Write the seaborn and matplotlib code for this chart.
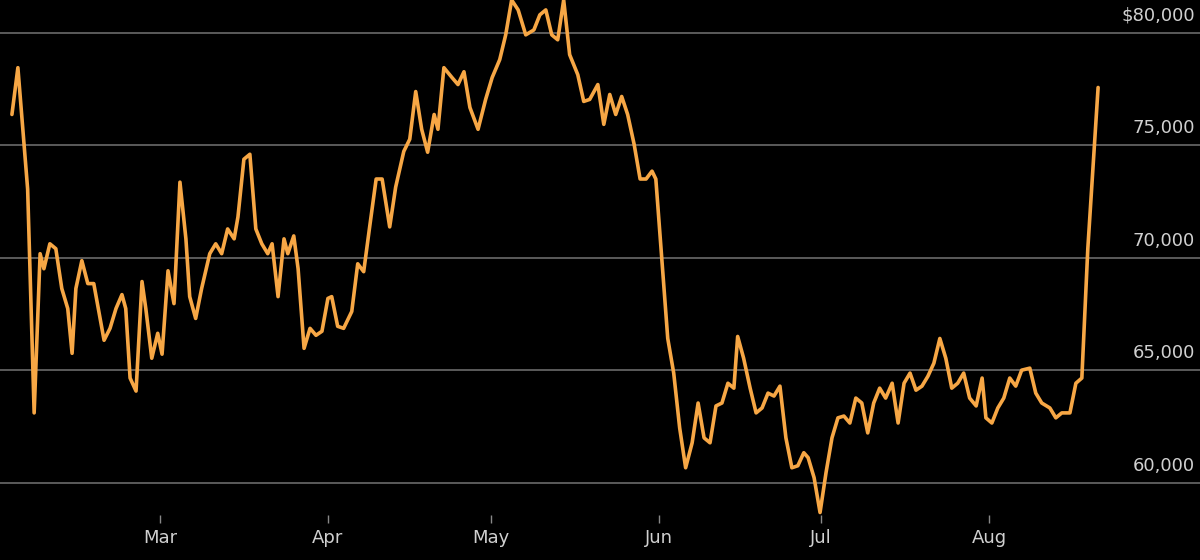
import matplotlib
matplotlib.use("Agg")
import matplotlib.pyplot as plt
import seaborn as sns
import pandas as pd

days = [-27.3,-26.2,-24.4,-23.2,-22.1,-21.4,-20.3,-19.2,-18.1,-17.0,-16.2,-15.5,-14.4,-13.3,-12.2,-10.3,-9.2,-8.1,-7.0,-6.3,-5.5,-4.4,-3.3,-2.6,-1.5,-0.4,0.4,1.5,2.6,3.7,4.8,5.5,6.6,7.7,9.2,10.3,11.4,12.5,13.7,14.4,15.5,16.6,17.7,18.8,19.9,20.7,21.8,22.9,23.6,24.7,25.5,26.6,27.7,28.8,29.9,31.0,31.7,32.8,33.9,35.4,36.5,37.6,38.7,39.9,41.0,42.4,43.5,45.0,46.1,47.2,48.3,49.4,50.6,51.3,52.4,53.9,55.0,56.1,57.2,58.7,60.1,61.3,62.7,63.8,64.9,66.1,67.5,69.0,70.1,71.2,72.3,73.4,74.5,75.6,77.1,78.2,79.3,80.8,81.9,83.0,84.1,85.2,86.3,87.5,88.6,89.7,90.8,91.5,92.6,93.7,94.8,95.9,97.0,98.2,99.3,100.4,101.5,102.6,103.7,104.8,105.9,106.6,107.7,108.9,110.0,111.1,112.2,113.3,114.4,115.5,116.6,117.7,118.8,119.6,120.7,121.8,122.9,124.0,125.1,126.2,127.3,128.4,129.5,130.6,131.7,132.8,133.9,135.1,136.2,137.3,138.4,139.5,140.6,141.7,142.8,143.9,145.0,146.1,147.2,148.3,149.4,150.6,151.7,152.4,153.5,154.6,155.7,156.8,157.9,159.0,160.5,161.6,162.7,164.2,165.3,166.4,167.9,169.0,170.1,171.2,173.1]
values = [76370,78450,73050,63100,70180,69510,70620,70400,68630,67740,65750,68630,69870,68850,68850,66330,66860,67740,68360,67740,64650,64070,68940,67740,65530,66640,65710,69420,67960,73360,70840,68270,67300,68630,70180,70620,70180,71280,70840,71810,74380,74600,71280,70620,70180,70620,68270,70840,70180,70970,69510,65970,66860,66550,66730,68190,68270,66950,66860,67610,69730,69380,71370,73500,73500,71370,73140,74730,75270,77390,75710,74690,76370,75710,78450,78010,77700,78270,76680,75710,77040,78010,78810,79910,81460,81020,79910,80130,80800,81020,79910,79690,81460,79030,78140,76950,77040,77700,75930,77260,76370,77170,76370,75040,73500,73500,73850,73500,69960,66410,64870,62430,60660,61770,63540,61990,61770,63410,63540,64420,64200,66500,65530,64200,63100,63320,63980,63850,64290,61990,60660,60750,61330,61110,60220,58670,60440,61990,62880,62960,62650,63760,63540,62210,63540,64200,63760,64420,62650,64420,64870,64110,64290,64730,65310,66410,65530,64200,64420,64870,63760,63410,64650,62880,62650,63320,63760,64650,64290,65000,65090,63980,63540,63320,62880,63100,63100,64420,64650,70400,77570]
month_days = [0, 31, 61, 92, 122, 153]
month_labels = ["Mar", "Apr", "May", "Jun", "Jul", "Aug"]
y_ticks = [60000, 65000, 70000, 75000, 80000]
y_labels = ["60,000", "65,000", "70,000", "75,000", "$80,000"]

n = min(len(days), len(values))
df = pd.DataFrame({"day": days[:n], "value": values[:n]})

sns.set_style("dark")
fig = plt.figure(figsize=(12, 5.6), dpi=100, facecolor="black")
ax = fig.add_axes([0, 45/560, 1, 515/560])
ax.set_facecolor("black")
for yt, lab in zip(y_ticks, y_labels):
    ax.axhline(yt, color="#6a6a6a", lw=1.2, zorder=1)
    ax.text(0.996, yt + 350, lab, transform=ax.get_yaxis_transform(), ha="right", va="bottom",
            color="#d0d0d0", fontsize=13, family="DejaVu Sans")
sns.lineplot(data=df, x="day", y="value", ax=ax, color="#f7a745", lw=2.6, zorder=3, sort=False)
ax.set_xlim(-29.5, 191.9)
ax.set_ylim(58560, 81460)
ax.set_yticks([])
ax.set_xticks(month_days)
ax.set_xticklabels(month_labels, color="#d0d0d0", fontsize=13)
ax.tick_params(axis="x", colors="#888888", length=6, width=1, labelcolor="#d0d0d0", pad=4, bottom=True)
ax.set_xlabel(""); ax.set_ylabel("")
ax.grid(False)
for s in ax.spines.values():
    s.set_visible(False)
fig.savefig("out.png", facecolor="black")
